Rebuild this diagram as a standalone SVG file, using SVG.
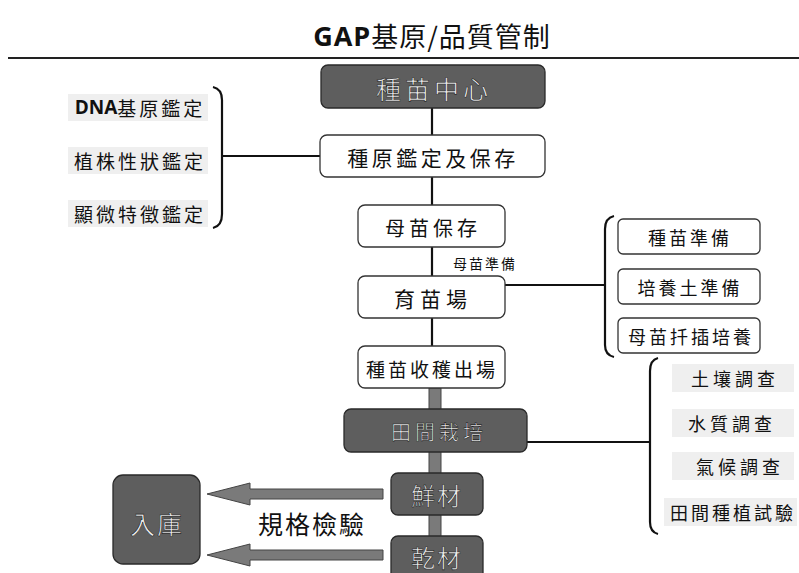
<svg xmlns="http://www.w3.org/2000/svg" width="799" height="573" viewBox="0 0 799 573">
<style>
.t{font-family:"Noto Sans CJK TC","Noto Sans CJK SC",sans-serif;fill:#111;text-anchor:middle;dominant-baseline:central}
.w{fill:#fff;stroke:#333;stroke-width:1.3}
.d{fill:#5e5e5e;stroke:#2a2a2a;stroke-width:1.3}
.dt{fill:#f2f2f2;stroke:#222;stroke-width:0.6}
.ln{stroke:#111;stroke-width:2.2;fill:none}
.bg{fill:#efefef}
.ar{fill:#7a7a7a;stroke:#444;stroke-width:1}
</style>
<rect width="799" height="573" fill="#fff"/>
<g id="title">
<text x="432" y="35" class="t" font-size="27" letter-spacing="1"><tspan font-family="Open Sans" font-weight="700">GAP</tspan>基原/品質管制</text>
<line x1="8" y1="58" x2="799" y2="58" stroke="#222" stroke-width="2.2"/>
</g>
<g id="connectors">
<line class="ln" x1="432" y1="108" x2="432" y2="135"/>
<line class="ln" x1="432" y1="177" x2="432" y2="205"/>
<line class="ln" x1="432" y1="247" x2="432" y2="276"/>
<line class="ln" x1="432" y1="318" x2="432" y2="346"/>
<line class="ln" x1="222" y1="156" x2="320" y2="156"/>
<path class="ln" d="M213 87 Q222 89 222 100 L222 214 Q222 226 213 228"/>
<line class="ln" x1="505" y1="285" x2="605" y2="285"/>
<path class="ln" d="M614 216 Q605 218 605 229 L605 345 Q605 355 614 357"/>
<line class="ln" x1="527" y1="442" x2="650" y2="442"/>
<path class="ln" d="M658 358 Q650 360 650 371 L650 522 Q650 532 658 534"/>
<rect x="429" y="388" width="12" height="186" fill="#7a7a7a" stroke="#444" stroke-width="1"/>
<polygon class="ar" points="207,494 250,483 250,489 383,489 383,499 250,499 250,505"/>
<polygon class="ar" points="207,555 250,544 250,550 383,550 383,560 250,560 250,566"/>
</g>
<g id="n-left">
<rect class="bg" x="68" y="94" width="140" height="27"/>
<rect class="bg" x="68" y="147" width="140" height="27"/>
<rect class="bg" x="68" y="200" width="140" height="27"/>
<text x="140" y="107" class="t" font-size="19" letter-spacing="3"><tspan font-family="Open Sans" font-weight="700" letter-spacing="0">DNA</tspan>基原鑑定</text>
<text x="140" y="160" class="t" font-size="19" letter-spacing="3">植株性狀鑑定</text>
<text x="140" y="213" class="t" font-size="19" letter-spacing="3">顯微特徵鑑定</text>
</g>
<g id="n-center">
<rect class="d" x="321" y="65" width="224" height="43" rx="7"/>
<text x="434" y="88" class="t dt" font-size="25" letter-spacing="4">種苗中心</text>
</g>
<g id="n-yuanding">
<rect class="w" x="320" y="135" width="225" height="42" rx="7"/>
<text x="433" y="157" class="t" font-size="21" letter-spacing="3.5">種原鑑定及保存</text>
</g>
<g id="n-mumiao">
<rect class="w" x="358" y="205" width="147" height="42" rx="7"/>
<text x="433" y="227" class="t" font-size="20" letter-spacing="4">母苗保存</text>
</g>
<text x="485" y="263" class="t" font-size="14" letter-spacing="2">母苗準備</text>
<g id="n-yumiao">
<rect class="w" x="358" y="276" width="147" height="42" rx="7"/>
<text x="433" y="298" class="t" font-size="21" letter-spacing="5">育苗場</text>
</g>
<g id="n-shouhuo">
<rect class="w" x="358" y="346" width="147" height="42" rx="7"/>
<text x="432" y="368" class="t" font-size="19" letter-spacing="3">種苗收穫出場</text>
</g>
<g id="n-prep">
<rect class="w" x="618" y="219" width="142" height="35" rx="5"/>
<text x="690" y="237" class="t" font-size="18" letter-spacing="3">種苗準備</text>
<rect class="w" x="618" y="269" width="142" height="35" rx="5"/>
<text x="690" y="287" class="t" font-size="18" letter-spacing="3">培養土準備</text>
<rect class="w" x="618" y="318" width="142" height="35" rx="5"/>
<text x="691" y="336" class="t" font-size="18" letter-spacing="3">母苗扦插培養</text>
</g>
<g id="n-field">
<rect class="d" x="344" y="409" width="183" height="43" rx="7"/>
<text x="439" y="431" class="t dt" font-size="20" letter-spacing="4">田間栽培</text>
</g>
<g id="n-survey">
<rect class="bg" x="672" y="364" width="122" height="28"/>
<rect class="bg" x="672" y="409" width="122" height="28"/>
<rect class="bg" x="672" y="452" width="122" height="28"/>
<rect class="bg" x="664" y="498" width="133" height="28"/>
<text x="735" y="378" class="t" font-size="18" letter-spacing="4">土壤調查</text>
<text x="732" y="423" class="t" font-size="18" letter-spacing="4">水質調查</text>
<text x="740" y="466" class="t" font-size="18" letter-spacing="4">氣候調查</text>
<text x="733" y="512" class="t" font-size="18" letter-spacing="3">田間種植試驗</text>
</g>
<g id="n-xian">
<rect class="d" x="391" y="473" width="92" height="42" rx="7"/>
<text x="437" y="494" class="t dt" font-size="24" letter-spacing="2">鮮材</text>
</g>
<g id="n-gan">
<rect class="d" x="391" y="536" width="92" height="45" rx="7"/>
<text x="437" y="556" class="t dt" font-size="24" letter-spacing="2">乾材</text>
</g>
<g id="n-ruku">
<rect class="d" x="113" y="475" width="87" height="89" rx="10"/>
<text x="157" y="523" class="t dt" font-size="25" letter-spacing="2">入庫</text>
</g>
<text x="312" y="523" class="t" font-size="25" letter-spacing="2">規格檢驗</text>
</svg>
